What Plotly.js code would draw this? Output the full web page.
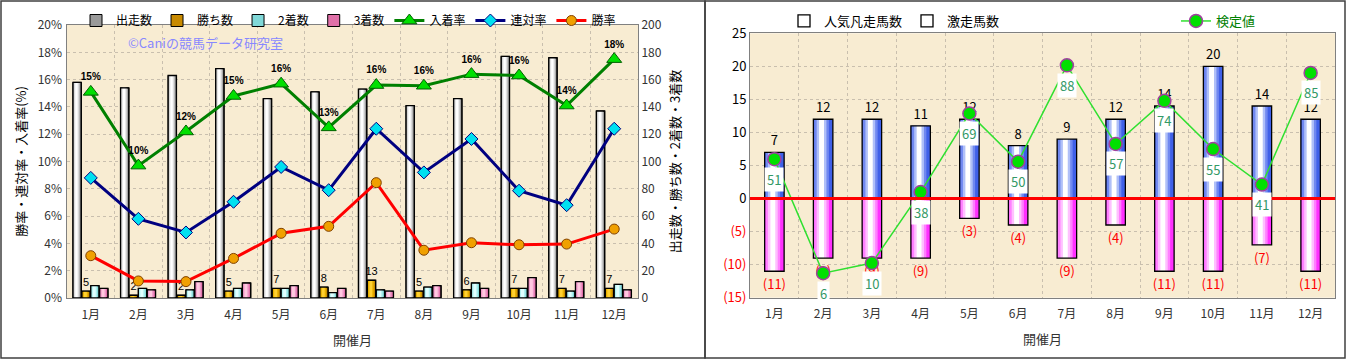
<!DOCTYPE html>
<html>
<head>
<meta charset="utf-8">
<script src="https://cdn.plot.ly/plotly-3.0.1.min.js"></script>
<style>html,body{margin:0;padding:0;background:#fff;}#chart{width:1351px;height:360px;}</style>
</head>
<body>
<div id="chart"></div>
<script>
// ---------- data ----------
const months = ['1月','2月','3月','4月','5月','6月','7月','8月','9月','10月','11月','12月'];
// left chart
const starts = [158,154,163,168,146,151,153,141,146,177,176,137];   // 出走数
const wins = [5,2,2,5,7,8,13,5,6,7,7,7];                             // 勝ち数
const seconds = [9,7,6,7,7,4,6,8,11,7,5,10];                         // 2着数
const thirds = [7,6,12,11,9,7,5,9,7,15,12,6];                        // 3着数
const placeRate = [15.1,9.7,12.2,14.8,15.7,12.5,15.6,15.55,16.4,16.3,14.1,17.5]; // 入着率
const quinellaRate = [8.8,5.8,4.8,7.05,9.6,7.9,12.4,9.2,11.65,7.86,6.8,12.4];    // 連対率
const winRate = [3.1,1.25,1.2,2.9,4.74,5.25,8.45,3.5,4.05,3.9,3.95,5.05];         // 勝率
// right chart
const hotHorses = [7,12,12,11,12,8,9,12,14,20,14,12];      // 激走馬数
const flopHorses = [11,9,9,9,3,4,9,4,11,11,7,11];          // 人気凡走馬数
const testValue = [51,6,10,38,69,50,88,57,74,55,41,85];    // 検定値
const leftTicks = [0,2,4,6,8,10,12,14,16,18,20];
const rightTicks = [0,20,40,60,80,100,120,140,160,180,200];
const r2Ticks = [-15,-10,-5,0,5,10,15,20,25];

const FONT = 'Noto Sans CJK JP, sans-serif';
const traces = [];

// cylinder-like bar made from several layered bars
function cylinder(o) {
  const c = o.offset + o.width * 0.42;
  o.layers.forEach((ly, i) => {
    const w = o.width * ly[0];
    const off = i === 0 ? o.offset : c - w / 2;
    traces.push({
      type: 'bar', x: o.x, y: o.y, xaxis: o.xa, yaxis: o.ya,
      offset: off, width: w, name: o.name,
      marker: {color: ly[1], line: {width: i === 0 && o.legendFill ? 1 : 0, color: '#000'}},
      showlegend: i === 0 && !!o.legendFill, legend: o.legend,
      hoverinfo: 'skip'
    });
  });
  traces.push({
    type: 'bar', x: o.x, y: o.y, xaxis: o.xa, yaxis: o.ya,
    offset: o.offset, width: o.width, name: o.name,
    marker: {color: 'rgba(0,0,0,0)', line: {width: 1.3, color: '#000'}},
    showlegend: !o.legendFill && !!o.legend, legend: o.legend,
    text: o.text, textposition: o.text ? 'outside' : 'none',
    textfont: o.textfont, constraintext: 'none', cliponaxis: false,
    hoverinfo: 'skip'
  });
}

// ---- left chart bars (count axis y) ----
const lw = 0.175, lstep = 0.187, l0 = -0.375;
cylinder({x: months, y: starts, xa: 'x', ya: 'y', offset: l0, width: lw, name: '出走数', legend: 'legend', legendFill: true,
  layers: [[1,'#9a9a9a'],[0.75,'#c8c8c8'],[0.5,'#e8e8e8'],[0.25,'#ffffff']]});
cylinder({x: months, y: wins, xa: 'x', ya: 'y', offset: l0 + lstep, width: lw, name: '勝ち数', legend: 'legend', legendFill: true,
  layers: [[1,'#c88a00'],[0.7,'#e8b000'],[0.35,'#ffd030']],
  text: wins.map(String), textfont: {size: 11, color: '#000', family: 'Liberation Sans, Arial'}});
cylinder({x: months, y: seconds, xa: 'x', ya: 'y', offset: l0 + 2*lstep, width: lw, name: '2着数', legend: 'legend', legendFill: true,
  layers: [[1,'#80d8d8'],[0.7,'#b0f0f0'],[0.35,'#e0ffff']]});
cylinder({x: months, y: thirds, xa: 'x', ya: 'y', offset: l0 + 3*lstep, width: lw, name: '3着数', legend: 'legend', legendFill: true,
  layers: [[1,'#e070a8'],[0.7,'#f098c8'],[0.35,'#ffc8e0']]});

// ---- left chart lines (percent axis y2) ----
traces.push({type: 'scatter', mode: 'lines+markers+text', x: months, y: placeRate, xaxis: 'x', yaxis: 'y2',
  name: '入着率', legend: 'legend', line: {color: '#008000', width: 3},
  marker: {symbol: 'triangle-up', size: 13, color: '#00e000', line: {color: '#006000', width: 1}},
  text: placeRate.map(v => Math.round(v) + '%'), textposition: 'top center',
  textfont: {size: 10, color: '#000', family: 'Liberation Sans, Arial', weight: 'bold'}, cliponaxis: false, hoverinfo: 'skip'});
traces.push({type: 'scatter', mode: 'lines+markers', x: months, y: quinellaRate, xaxis: 'x', yaxis: 'y2',
  name: '連対率', legend: 'legend', line: {color: '#000080', width: 3},
  marker: {symbol: 'diamond', size: 10, color: '#00e0f0', line: {color: '#000080', width: 1}}, hoverinfo: 'skip'});
traces.push({type: 'scatter', mode: 'lines+markers', x: months, y: winRate, xaxis: 'x', yaxis: 'y2',
  name: '勝率', legend: 'legend', line: {color: '#ff0000', width: 3},
  marker: {symbol: 'circle', size: 10, color: '#f0a000', line: {color: '#804000', width: 1}}, hoverinfo: 'skip'});

// ---- right chart bars ----
cylinder({x: months, y: flopHorses.map(v => -v), xa: 'x2', ya: 'y3', offset: -0.2, width: 0.4, name: '人気凡走馬数', legend: 'legend2',
  layers: [[1,'#ff30ff'],[0.75,'#ff80ff'],[0.5,'#ffc0ff'],[0.25,'#ffffff']],
  text: flopHorses.map(v => '(' + v + ')'), textfont: {size: 13, color: '#ff0000', family: FONT}});
cylinder({x: months, y: hotHorses, xa: 'x2', ya: 'y3', offset: -0.2, width: 0.4, name: '激走馬数', legend: 'legend4',
  layers: [[1,'#4060e8'],[0.75,'#7088f0'],[0.5,'#b0c0f8'],[0.25,'#ffffff']],
  text: hotHorses.map(String), textfont: {size: 13, color: '#000', family: FONT}});

traces.push({type: 'scatter', mode: 'lines+markers', x: months, y: testValue, xaxis: 'x2', yaxis: 'y4',
  name: '検定値', legend: 'legend3', line: {color: '#30e030', width: 1.5},
  marker: {symbol: 'circle', size: 13, color: '#00e000', line: {color: '#a040a0', width: 1.5}}, cliponaxis: false, hoverinfo: 'skip'});

const annotations = testValue.map((v, i) => ({
  xref: 'x2', yref: 'y4', x: months[i], y: v, text: String(v), showarrow: false, yshift: -20,
  bgcolor: '#ffffff', borderpad: 2, font: {size: 13, color: '#339966', family: FONT}
}));
annotations.push({xref: 'paper', yref: 'paper', x: 205/1351, y: 1 - 42/360, xanchor: 'center', yanchor: 'middle',
  text: '©Caniの競馬データ研究室', showarrow: false, font: {size: 13, color: '#8888ff', family: FONT}});

const W = 1351, H = 360;
const px = v => v / W, py = v => 1 - v / H;
const gridCol = '#c9bfae';
const legBase = {orientation: 'h', y: py(6), xanchor: 'left', yanchor: 'top', bgcolor: 'rgba(0,0,0,0)', itemwidth: 30};

const layout = {
  width: W, height: H, margin: {l: 0, r: 0, t: 0, b: 0},
  paper_bgcolor: '#ffffff', plot_bgcolor: '#f8ecd2',
  font: {family: FONT, size: 12, color: '#000'},
  barmode: 'overlay', showlegend: true,
  xaxis: {domain: [px(67), px(638)], anchor: 'y', type: 'category', range: [-0.5, 11.5], tickson: 'boundaries',
    showgrid: true, gridcolor: gridCol, griddash: 'dot', ticks: '', showline: true, linecolor: '#808080', mirror: true,
    tickfont: {size: 12, color: '#333'}, ticklabelstandoff: 6,
    title: {text: '開催月', font: {size: 13, color: '#333'}, standoff: 14}},
  yaxis: {domain: [py(298), py(25)], anchor: 'x', side: 'right', range: [0, 200], tickvals: rightTicks,
    showgrid: true, gridcolor: gridCol, griddash: 'dot', zeroline: false, ticks: '', showline: true, linecolor: '#808080', mirror: true,
    tickfont: {size: 12, color: '#333'},
    title: {text: '出走数・勝ち数・2着数・3着数', font: {size: 13, color: '#000'}, standoff: 10}},
  yaxis2: {overlaying: 'y', anchor: 'x', side: 'left', range: [0, 20], tickvals: leftTicks, ticktext: leftTicks.map(v => v + '%'),
    showgrid: false, zeroline: false, ticks: '', tickfont: {size: 12, color: '#333'}, ticklabelstandoff: 4,
    title: {text: '勝率・連対率・入着率(%)', font: {size: 13, color: '#000'}, standoff: 8}},
  xaxis2: {domain: [px(750), px(1335)], anchor: 'y3', type: 'category', range: [-0.5, 11.5], tickson: 'boundaries',
    showgrid: true, gridcolor: gridCol, griddash: 'dot', ticks: '', showline: true, linecolor: '#808080', mirror: true,
    tickfont: {size: 12, color: '#333'}, ticklabelstandoff: 5,
    title: {text: '開催月', font: {size: 13, color: '#333'}, standoff: 14}},
  yaxis3: {domain: [py(297.7), py(33.3)], anchor: 'x2', range: [-15, 25], tickvals: r2Ticks,
    ticktext: r2Ticks.map(v => v < 0 ? '<span style="color:#ff0000">(' + (-v) + ')</span>' : String(v)),
    showgrid: true, gridcolor: gridCol, griddash: 'dot', zeroline: false, ticks: '', showline: true, linecolor: '#808080', mirror: true,
    tickfont: {size: 13, color: '#000'}},
  yaxis4: {overlaying: 'y3', anchor: 'x2', range: [-3.65, 100.65], visible: false, showgrid: false, zeroline: false},
  legend: Object.assign({}, legBase, {x: px(76), font: {size: 12, color: '#000'}, tracegroupgap: 0}),
  legend2: Object.assign({}, legBase, {x: px(784), font: {size: 13, color: '#000'}}),
  legend4: Object.assign({}, legBase, {x: px(907), font: {size: 13, color: '#000'}}),
  legend3: Object.assign({}, legBase, {x: px(1176), font: {size: 13, color: '#008000'}}),
  annotations: annotations,
  shapes: [
    {type: 'line', xref: 'x2 domain', x0: 0, x1: 1, yref: 'y3', y0: 0, y1: 0, line: {color: '#ff0000', width: 3}, layer: 'above'},
    {type: 'rect', xref: 'paper', yref: 'paper', x0: px(1), x1: px(705), y0: py(358), y1: py(1), line: {color: '#404040', width: 1.5}},
    {type: 'rect', xref: 'paper', yref: 'paper', x0: px(705), x1: px(1345), y0: py(358), y1: py(1), line: {color: '#404040', width: 1.5}}
  ]
};

Plotly.newPlot('chart', traces, layout, {staticPlot: true, displayModeBar: false});
</script>
</body>
</html>
